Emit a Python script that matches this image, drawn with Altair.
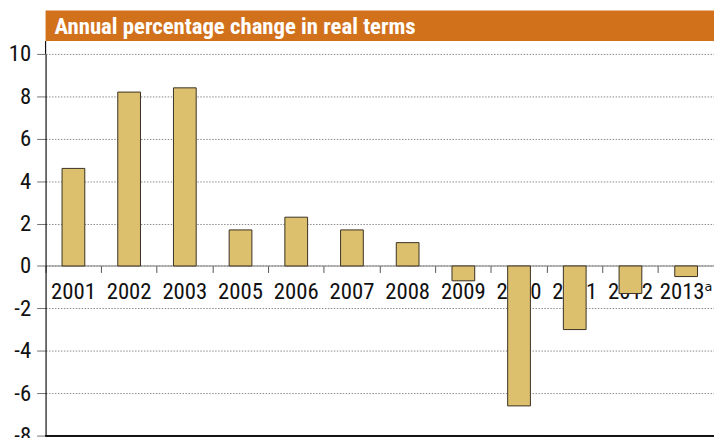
import altair as alt
import pandas as pd

years = ["2001", "2002", "2003", "2005", "2006", "2007", "2008", "2009", "2010", "2011", "2012", "2013ᵃ"]
changes = [4.6, 8.2, 8.4, 1.7, 2.3, 1.7, 1.1, -0.7, -6.6, -3.0, -1.3, -0.5]
title_text = "Annual percentage change in real terms"

df = pd.DataFrame({"year": years, "change": changes})
FONT = "Liberation Sans Narrow, Roboto Condensed, Open Sans Condensed, DejaVu Sans Condensed, Liberation Sans, sans-serif"

base = alt.Chart(df)

bars = base.mark_bar(size=23, color="#dcc06e", stroke="#3a3122", strokeWidth=1).encode(
    x=alt.X("year:N", sort=years,
            scale=alt.Scale(paddingInner=0, paddingOuter=0),
            axis=alt.Axis(title=None, orient="bottom", offset=-172, labelAngle=0,
                          domainColor="#808080", domainWidth=1.2,
                          tickColor="#555555", tickSize=7, bandPosition=0,
                          labelFontSize=23, labelColor="#111111", labelFont=FONT,
                          labelPadding=8, grid=False, zindex=0)),
    y=alt.Y("change:Q", scale=alt.Scale(domain=[-8, 10], nice=False, zero=False),
            axis=alt.Axis(title=None, values=list(range(-8, 11, 2)),
                          labelExpr="toString(datum.value)",
                          domainColor="#111111", domainWidth=1.2,
                          tickColor="#707070", tickSize=9, labelPadding=6,
                          labelFontSize=23, labelColor="#111111", labelFont=FONT,
                          grid=True, gridColor="#8a8a8a", gridDash=[1.5, 1.5],
                          gridWidth=1)),
)

bottom_rule = base.mark_rule(color="#111111", strokeWidth=1.2).encode(
    y=alt.datum(-8)
)

axis_stub = alt.Chart(pd.DataFrame({"t": [title_text]})).mark_rule(
    color="#111111", strokeWidth=1.2, clip=False
).encode(
    x=alt.value(0), y=alt.value(-13), y2=alt.value(0)
)

title_bar = alt.Chart(pd.DataFrame({"t": [title_text]})).mark_rect(
    color="#d2711b", clip=False
).encode(
    x=alt.value(0), x2=alt.value(700), y=alt.value(-44), y2=alt.value(-13)
)

title_label = alt.Chart(pd.DataFrame({"t": [title_text]})).mark_text(
    color="white", fontWeight="bold", fontSize=23, font=FONT,
    align="left", baseline="alphabetic", clip=False
).encode(
    text="t:N", x=alt.value(9), y=alt.value(-20)
)

chart = alt.layer(bars, bottom_rule, axis_stub, title_bar, title_label).properties(
    width=676, height=386,
    autosize=alt.AutoSizeParams(type="none"),
    padding={"left": 38, "top": 44, "right": 0, "bottom": 0},
).configure_view(stroke=None)

chart.save("out.html", embed_options={"renderer": "svg", "actions": False})
